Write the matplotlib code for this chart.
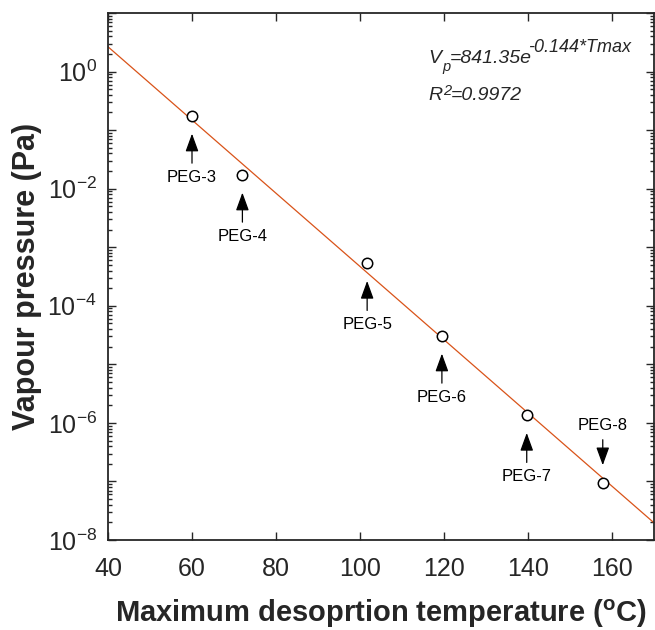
import numpy as np
import matplotlib
matplotlib.use("Agg")
import matplotlib.pyplot as plt
from matplotlib.ticker import LogLocator, NullFormatter, FixedLocator

plt.rcParams["font.family"] = ["Liberation Sans", "DejaVu Sans"]
plt.rcParams["mathtext.fontset"] = "custom"
plt.rcParams["mathtext.rm"] = "Liberation Sans"
plt.rcParams["mathtext.it"] = "Liberation Sans:italic"

# measured data (Tmax in degC, vapour pressure in Pa)
samples = ["PEG-3", "PEG-4", "PEG-5", "PEG-6", "PEG-7", "PEG-8"]
t_max = [60, 72, 101.7, 119.5, 139.7, 157.8]
vp = [0.177, 0.0174, 5.4e-4, 3.1e-5, 1.37e-6, 9.3e-8]
# label side: -1 = below point (arrow up), +1 = above (arrow down)
label_side = [-1, -1, -1, -1, -1, 1]

# exponential fit
fit_a = 841.35
fit_b = -0.144
fit_r2 = 0.9972

INK = "#262626"
H = 630

fig = plt.figure(figsize=(6.55, 6.3), dpi=100)
ax = fig.add_axes([108 / 655, 1 - 540 / 630, 546 / 655, 527 / 630])

tt = np.linspace(40, 170, 200)
ax.plot(tt, fit_a * np.exp(fit_b * tt), color="#D95319", lw=0.9, zorder=2)
ax.plot(t_max, vp, "o", mfc="white", mec="black", ms=7.5, mew=1.1, zorder=3)

for name, x, y, side in zip(samples, t_max, vp, label_side):
    dy = -62 if side < 0 else 58
    ax.annotate(name, xy=(x, y), xytext=(0, dy),
                textcoords="offset pixels", ha="center", va="center",
                fontsize=12, color="black",
                arrowprops=dict(arrowstyle="-|>,head_length=0.55,head_width=0.2",
                                mutation_scale=20, color="black", lw=0.9,
                                shrinkA=3, shrinkB=13))

ax.set_yscale("log")
ax.set_xlim(40, 170)
ax.set_ylim(1e-8, 1e1)
ax.set_xticks(np.arange(40, 161, 20))

decades = np.arange(-8, 2)
ax.yaxis.set_major_locator(FixedLocator(10.0 ** decades))
ax.set_yticklabels([r"$10^{%d}$" % d if d % 2 == 0 else "" for d in decades])
ax.yaxis.set_minor_locator(LogLocator(base=10, subs=np.arange(2, 10), numticks=20))
ax.yaxis.set_minor_formatter(NullFormatter())

ax.tick_params(which="both", direction="in", top=True, right=True,
               colors=INK, labelsize=18, width=1.0)
ax.tick_params(axis="x", which="major", length=6, pad=12)
ax.tick_params(axis="y", which="major", length=6, pad=8)
ax.tick_params(which="minor", length=3)
for sp in ax.spines.values():
    sp.set_color(INK)
    sp.set_linewidth(1.3)

ax.set_xlabel("Maximum desoprtion temperature ($\\mathregular{^{o}}$C)",
              fontsize=21, fontweight="bold", color=INK, labelpad=12)
ax.set_ylabel("Vapour pressure (Pa)", fontsize=22, fontweight="bold",
              color=INK, labelpad=4)


# fit equation, built from pieces so sub/superscripts match the original
def piece(prev, s, y_top, size, dx=0):
    return ax.annotate(s, xy=(1, H - y_top), xycoords=(prev, "figure pixels"),
                       xytext=(dx, 0), textcoords="offset pixels",
                       fontsize=size, style="italic", color=INK,
                       ha="left", va="baseline")


tv = fig.text(428 / 655, 1 - 63 / H, "V", fontsize=14, style="italic",
              color=INK, va="baseline")
tp = piece(tv, "p", 71, 10.5, 1)
te = piece(tp, "=%.2fe" % fit_a, 63, 14)
piece(te, "%.3f*Tmax" % fit_b, 52, 13, -4)

tr = fig.text(428 / 655, 1 - 100 / H, "R", fontsize=14, style="italic",
              color=INK, va="baseline")
t2 = piece(tr, "2", 95, 10.5, 1)
piece(t2, "=%.4f" % fit_r2, 100, 14)

fig.savefig("out.png", dpi=100)
